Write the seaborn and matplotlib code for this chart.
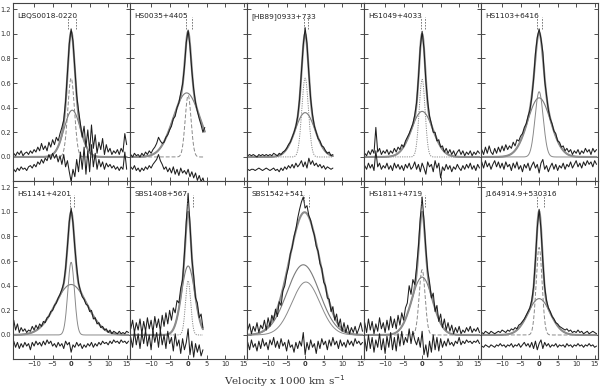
import numpy as np
import pandas as pd
import matplotlib
matplotlib.use("Agg")
import matplotlib.pyplot as plt
from matplotlib.ticker import FixedLocator, FormatStrFormatter
import seaborn as sns

sns.set_theme(style="white")
plt.rcParams['font.family'] = ['DejaVu Sans']

# ---------------- data ----------------
names = ["LBQS0018-0220", "HS0035+4405", "[HB89]0933+733", "HS1049+4033", "HS1103+6416",
         "HS1141+4201", "SBS1408+567", "SBS1542+541", "HS1811+4719", "J164914.9+530316"]

v_start = -15.5   # first velocity bin (x1000 km/s)
v_step = 0.5      # bin width

spec_0018 = [0.03, 0.01, 0.04, 0.02, 0.05, 0.01, 0.03, 0.04, 0.02, 0.05,
             0.03, 0.06, 0.04, 0.08, 0.05, 0.11, 0.06, 0.09, 0.05, 0.12,
             0.08, 0.14, 0.10, 0.16, 0.13, 0.19, 0.24, 0.30, 0.45, 0.68,
             0.92, 1.04, 0.94, 0.72, 0.50, 0.38, 0.27, 0.16, 0.25, 0.08,
             0.22, 0.05, 0.26, 0.07, 0.18, 0.03, 0.12, 0.06, 0.15, 0.02,
             0.10, 0.04, 0.07, 0.02, 0.05, 0.03, 0.06, 0.02, 0.07, 0.04,
             0.19, 0.10]
resid_0018 = [-0.10, -0.12, -0.09, -0.11, -0.08, -0.10, -0.09, -0.11, -0.08, -0.07,
              -0.09, -0.06, -0.08, -0.04, -0.06, -0.02, -0.05, -0.01, -0.03, 0.02,
              -0.02, 0.03, -0.01, 0.02, -0.04, 0.01, -0.06, 0.02, -0.08, -0.03,
              -0.12, -0.20, -0.10, -0.16, -0.02, -0.12, 0.04, -0.10, 0.08, -0.14,
              0.05, -0.12, 0.10, -0.08, 0.03, -0.10, -0.02, -0.08, -0.04, -0.10,
              -0.05, -0.08, -0.06, -0.09, -0.07, -0.10, -0.08, -0.11, -0.08, -0.10,
              0.04, -0.10]

spec_0035 = [0.02, 0.00, 0.03, 0.01, 0.02, 0.00, 0.03, 0.01, 0.04, 0.02,
             0.05, 0.03, 0.06, 0.08, 0.11, 0.16, 0.13, 0.11, 0.12, 0.16,
             0.18, 0.22, 0.25, 0.31, 0.33, 0.40, 0.44, 0.52, 0.59, 0.73,
             0.93, 1.03, 0.90, 0.70, 0.55, 0.44, 0.37, 0.31, 0.26, 0.20,
             0.24]
resid_0035 = [-0.08, -0.10, -0.07, -0.11, -0.09, -0.12, -0.09, -0.11, -0.08, -0.10,
              -0.07, -0.09, -0.06, -0.04, -0.02, 0.02, -0.03, -0.06, -0.10, -0.08,
              -0.12, -0.09, -0.13, -0.08, -0.14, -0.10, -0.15, -0.09, -0.13, -0.11,
              -0.14, -0.10, -0.16, -0.12, -0.17, -0.13, -0.19, -0.15, -0.20, -0.17,
              -0.22]

spec_0933 = [0.01, 0.02, 0.01, 0.02, 0.01, 0.00, 0.02, 0.01, 0.02, 0.01,
             0.02, 0.01, 0.02, 0.01, 0.03, 0.02, 0.01, 0.03, 0.02, 0.04,
             0.05, 0.07, 0.10, 0.12, 0.16, 0.20, 0.25, 0.33, 0.47, 0.69,
             0.91, 1.05, 0.92, 0.68, 0.47, 0.34, 0.25, 0.20, 0.15, 0.13,
             0.09, 0.08, 0.05, 0.03, 0.04, 0.01, 0.02]
resid_0933 = [-0.10, -0.11, -0.10, -0.10, -0.11, -0.10, -0.09, -0.10, -0.11, -0.10,
              -0.09, -0.10, -0.11, -0.10, -0.09, -0.11, -0.10, -0.12, -0.09, -0.11,
              -0.08, -0.10, -0.07, -0.09, -0.06, -0.09, -0.05, -0.08, -0.06, -0.03,
              -0.08, -0.04, -0.09, -0.01, -0.06, -0.03, -0.07, -0.05, -0.08, -0.06,
              -0.09, -0.07, -0.10, -0.08, -0.09, -0.10, -0.09]

spec_1049 = [0.03, 0.01, 0.05, 0.02, 0.06, 0.03, 0.24, 0.04, 0.07, 0.02,
             0.05, 0.03, 0.06, 0.02, 0.05, 0.03, 0.07, 0.04, 0.08, 0.06,
             0.10, 0.08, 0.13, 0.16, 0.19, 0.23, 0.27, 0.34, 0.44, 0.64,
             0.89, 1.02, 0.88, 0.62, 0.45, 0.33, 0.27, 0.20, 0.20, 0.13,
             0.14, 0.08, 0.09, 0.04, 0.07, 0.03, 0.06, 0.02, 0.05, 0.01,
             0.04, 0.06, 0.02, 0.05, 0.01, 0.04, 0.02, 0.05, 0.01, 0.04,
             0.02, 0.05, 0.03]
resid_1049 = [-0.07, -0.10, -0.05, -0.09, -0.06, -0.11, 0.05, -0.08, -0.05, -0.10,
              -0.07, -0.09, -0.05, -0.10, -0.07, -0.11, -0.05, -0.09, -0.06, -0.10,
              -0.07, -0.11, -0.06, -0.09, -0.05, -0.10, -0.08, -0.04, -0.10, -0.06,
              -0.12, -0.05, -0.09, -0.14, -0.04, -0.08, -0.06, -0.12, -0.03, -0.09,
              -0.05, -0.17, -0.08, -0.11, -0.06, -0.10, -0.07, -0.12, -0.08, -0.10,
              -0.06, -0.09, -0.11, -0.07, -0.10, -0.06, -0.09, -0.05, -0.10, -0.07,
              -0.11, -0.06, -0.09]

spec_1103 = [0.06, 0.02, 0.08, 0.03, 0.09, 0.04, 0.02, 0.07, 0.03, 0.08,
             0.04, 0.09, 0.05, 0.10, 0.06, 0.09, 0.07, 0.12, 0.09, 0.14,
             0.13, 0.17, 0.19, 0.24, 0.27, 0.33, 0.38, 0.48, 0.63, 0.84,
             0.97, 1.04, 0.96, 0.85, 0.62, 0.50, 0.38, 0.31, 0.27, 0.21,
             0.19, 0.13, 0.12, 0.08, 0.09, 0.05, 0.07, 0.04, 0.06, 0.02,
             0.05, 0.03, 0.06, 0.02, 0.05, 0.03, 0.07, 0.04, 0.06, 0.02,
             0.07, 0.04, 0.06]
resid_1103 = [-0.04, -0.09, -0.03, -0.08, -0.05, -0.10, -0.06, -0.03, -0.08, -0.04,
              -0.09, -0.05, -0.10, -0.04, -0.08, -0.06, -0.11, -0.05, -0.09, -0.04,
              -0.10, -0.07, -0.12, -0.06, -0.09, -0.05, -0.11, -0.07, -0.04, -0.09,
              -0.06, -0.13, -0.05, -0.02, -0.10, -0.07, -0.12, -0.08, -0.05, -0.10,
              -0.06, -0.11, -0.07, -0.09, -0.05, -0.10, -0.06, -0.08, -0.04, -0.09,
              -0.06, -0.03, -0.08, -0.05, -0.09, -0.04, -0.07, -0.03, -0.06, -0.04,
              -0.08, -0.03, -0.06]

spec_1141 = [0.12, 0.04, 0.09, 0.02, 0.06, 0.03, 0.05, 0.02, 0.04, 0.03,
             0.07, 0.04, 0.08, 0.05, 0.09, 0.07, 0.11, 0.10, 0.14, 0.15,
             0.19, 0.20, 0.24, 0.26, 0.30, 0.33, 0.37, 0.42, 0.54, 0.72,
             0.92, 1.03, 0.91, 0.71, 0.55, 0.42, 0.36, 0.31, 0.29, 0.25,
             0.24, 0.19, 0.20, 0.13, 0.14, 0.09, 0.10, 0.06, 0.07, 0.04,
             0.05, 0.02, 0.04, 0.01, 0.03, 0.02, 0.01, 0.03, 0.01, 0.02,
             0.01, 0.03, 0.02]
resid_1141 = [-0.05, -0.10, -0.06, -0.11, -0.07, -0.10, -0.06, -0.09, -0.07, -0.12,
              -0.06, -0.09, -0.05, -0.08, -0.06, -0.09, -0.05, -0.08, -0.04, -0.07,
              -0.05, -0.09, -0.07, -0.10, -0.06, -0.09, -0.07, -0.11, -0.05, -0.08,
              -0.06, -0.14, -0.08, -0.10, -0.06, -0.09, -0.07, -0.11, -0.08, -0.10,
              -0.07, -0.09, -0.06, -0.10, -0.07, -0.09, -0.06, -0.08, -0.05, -0.07,
              -0.06, -0.08, -0.05, -0.07, -0.04, -0.06, -0.05, -0.07, -0.04, -0.06,
              -0.05, -0.07, -0.05]

spec_1408 = [0.05, 0.12, 0.02, 0.10, 0.04, 0.13, 0.01, 0.11, 0.03, 0.14,
             0.05, 0.12, 0.02, 0.15, 0.06, 0.13, 0.03, 0.16, 0.07, 0.18,
             0.09, 0.20, 0.12, 0.22, 0.18, 0.28, 0.26, 0.38, 0.45, 0.66,
             0.92, 1.15, 0.90, 0.62, 0.48, 0.30, 0.26, 0.14, 0.17, 0.06]
resid_1408 = [-0.02, -0.10, 0.03, -0.08, 0.01, -0.11, 0.02, -0.07, 0.04, -0.09,
              0.00, -0.12, 0.03, -0.06, 0.02, -0.10, 0.04, -0.08, 0.00, -0.11,
              0.03, -0.07, -0.02, -0.13, 0.01, -0.09, -0.04, -0.15, -0.03, -0.12,
              -0.06, 0.05, -0.16, -0.05, -0.18, -0.07, -0.14, -0.08, -0.17, -0.12]

spec_1542 = [0.04, 0.09, 0.01, 0.07, 0.03, 0.10, 0.02, 0.08, 0.05, 0.12,
             0.04, 0.14, 0.07, 0.16, 0.12, 0.21, 0.15, 0.27, 0.24, 0.36,
             0.40, 0.49, 0.55, 0.66, 0.71, 0.80, 0.86, 0.95, 1.02, 1.08,
             1.12, 1.03, 1.05, 0.97, 0.93, 0.86, 0.81, 0.72, 0.68, 0.58,
             0.54, 0.43, 0.40, 0.30, 0.29, 0.19, 0.23, 0.12, 0.17, 0.07,
             0.13, 0.03, 0.10, 0.02, 0.08, 0.01, 0.06, 0.02, 0.07, 0.01,
             0.05, 0.10, 0.03]
resid_1542 = [-0.06, -0.12, -0.04, -0.10, -0.07, -0.13, -0.05, -0.11, -0.03, -0.09,
              -0.06, -0.12, -0.04, -0.08, -0.02, -0.10, -0.05, -0.11, -0.03, -0.09,
              -0.06, -0.13, -0.04, -0.10, -0.08, -0.14, -0.06, -0.11, -0.05, -0.09,
              0.02, -0.16, -0.06, -0.12, -0.04, -0.10, -0.07, -0.15, -0.05, -0.11,
              -0.03, -0.08, -0.05, -0.12, -0.04, -0.09, -0.02, -0.08, -0.05, -0.11,
              -0.04, -0.09, -0.06, -0.10, -0.04, -0.08, -0.05, -0.09, -0.03, -0.07,
              -0.05, -0.08, -0.06]

spec_1811 = [0.10, 0.02, 0.13, 0.04, 0.11, 0.01, 0.09, 0.03, 0.14, 0.05,
             0.10, 0.02, 0.12, 0.04, 0.15, 0.06, 0.13, 0.05, 0.16, 0.08,
             0.18, 0.12, 0.22, 0.26, 0.40, 0.33, 0.45, 0.41, 0.55, 0.72,
             0.95, 1.12, 0.93, 0.70, 0.52, 0.43, 0.30, 0.34, 0.19, 0.24,
             0.11, 0.17, 0.06, 0.13, 0.04, 0.10, 0.03, 0.08, 0.01, 0.06,
             0.02, 0.07, 0.01, 0.04, 0.02, 0.06, 0.03, 0.07, 0.02, 0.05,
             0.03, 0.06, 0.02]
resid_1811 = [-0.03, -0.13, 0.00, -0.11, -0.02, -0.14, -0.04, -0.10, 0.01, -0.12,
              -0.03, -0.15, -0.01, -0.10, 0.02, -0.12, -0.02, -0.13, 0.01, -0.09,
              0.03, -0.08, -0.02, -0.06, 0.05, -0.07, 0.03, -0.04, -0.08, -0.02,
              -0.10, 0.03, -0.16, -0.08, -0.18, -0.05, -0.14, 0.00, -0.12, -0.02,
              -0.13, -0.03, -0.10, -0.05, -0.09, -0.03, -0.08, -0.06, -0.09, -0.05,
              -0.07, -0.02, -0.08, -0.05, -0.07, -0.04, -0.06, -0.05, -0.07, -0.05,
              -0.06, -0.04, -0.07]

spec_1649 = [0.02, 0.01, 0.03, 0.02, 0.01, 0.03, 0.02, 0.01, 0.02, 0.03,
             0.02, 0.04, 0.03, 0.02, 0.04, 0.03, 0.05, 0.04, 0.06, 0.05,
             0.08, 0.09, 0.11, 0.13, 0.16, 0.19, 0.22, 0.28, 0.39, 0.61,
             0.87, 1.02, 0.86, 0.60, 0.39, 0.28, 0.22, 0.19, 0.15, 0.13,
             0.10, 0.09, 0.07, 0.06, 0.05, 0.04, 0.05, 0.03, 0.04, 0.02,
             0.03, 0.02, 0.04, 0.02, 0.03, 0.01, 0.02, 0.03, 0.01, 0.02,
             0.03, 0.02, 0.01]
resid_1649 = [-0.09, -0.10, -0.08, -0.09, -0.10, -0.08, -0.09, -0.10, -0.08, -0.09,
              -0.07, -0.09, -0.08, -0.10, -0.08, -0.09, -0.07, -0.10, -0.08, -0.09,
              -0.07, -0.10, -0.08, -0.06, -0.09, -0.07, -0.10, -0.06, -0.11, -0.05,
              -0.12, -0.07, -0.04, -0.11, -0.06, -0.09, -0.07, -0.10, -0.08, -0.09,
              -0.07, -0.10, -0.08, -0.09, -0.08, -0.10, -0.07, -0.09, -0.08, -0.10,
              -0.08, -0.09, -0.07, -0.09, -0.08, -0.10, -0.08, -0.09, -0.07, -0.09,
              -0.08, -0.10, -0.09]

spectra = [spec_0018, spec_0035, spec_0933, spec_1049, spec_1103,
           spec_1141, spec_1408, spec_1542, spec_1811, spec_1649]
residuals = [resid_0018, resid_0035, resid_0933, resid_1049, resid_1103,
             resid_1141, resid_1408, resid_1542, resid_1811, resid_1649]

# fitted Gaussian components (amplitude, centre, sigma)
broad_amp = [0.38, 0.52, 0.36, 0.37, 0.48, 0.41, 0.56, 0.57, 0.47, 0.295]
broad_cen = [0.3, -0.4, 0.0, 0.0, 0.0, 0.0, 0.0, -0.5, 0.0, 0.0]
broad_sig = [2.2, 3.6, 2.7, 2.9, 3.1, 4.3, 1.8, 4.4, 2.8, 3.0]
narrow_amp = [0.64, 0.50, 0.64, 0.63, 0.53, 0.59, 0.44, 0.43, 0.53, 0.71]
narrow_cen = [0.0, 0.0, 0.0, 0.0, 0.0, 0.0, 0.0, 0.2, 0.0, 0.0]
narrow_sig = [0.9, 0.8, 0.9, 0.8, 1.1, 0.9, 0.7, 3.8, 0.8, 0.8]
narrow_style = ["dashed", "dashed", "dotted", "dotted", "solid",
                "solid", "dotted", "solid", "dashed", "dashed"]
marker_pos = [(-0.9, 1.3), (-0.5, 1.1), (-0.3, 0.8), (-0.3, 0.9), (-0.5, 0.9),
              (-0.4, 0.8), (-0.3, 1.4), (-0.4, 1.0), (-0.4, 0.9), (-0.5, 1.4)]

x_ticks = [-10, -5, 0, 5, 10, 15]
y_ticks = [0.0, 0.2, 0.4, 0.6, 0.8, 1.0, 1.2]

# ---------------- figure ----------------
W, H = 600, 388
fig = plt.figure(figsize=(6.0, 3.88), dpi=100)
fig.patch.set_facecolor("white")

left_px, right_px = 13, 598
top_px, mid_px, bot_px = 3, 181, 359
pw = (right_px - left_px) / 5.0

styles = {"dashed": (0, (4, 2)), "dotted": (0, (1.2, 1.2)), "solid": "-"}

def gauss(x, a, c, s):
    return a * np.exp(-0.5 * ((x - c) / s) ** 2)

for i in range(10):
    row, col = divmod(i, 5)
    x0 = left_px + col * pw
    y_top = top_px if row == 0 else mid_px
    y_bot = mid_px if row == 0 else bot_px
    ax = fig.add_axes([x0 / W, 1 - y_bot / H, pw / W, (y_bot - y_top) / H])
    ax.set_facecolor("white")

    spec = np.array(spectra[i])
    v = v_start + v_step * np.arange(len(spec))
    res = np.array(residuals[i])
    vr = v_start + v_step * np.arange(len(res))

    vf = np.arange(v[0], v[-1] + 1e-6, 0.1)
    b = gauss(vf, broad_amp[i], broad_cen[i], broad_sig[i])
    n = gauss(vf, narrow_amp[i], narrow_cen[i], narrow_sig[i])
    df_fit = pd.DataFrame({"v": vf, "broad": b, "narrow": n, "total": b + n})

    sns.lineplot(data=df_fit, x="v", y="broad", ax=ax, color="#7a7a7a", lw=0.8,
                 estimator=None, sort=False)
    sns.lineplot(data=df_fit, x="v", y="narrow", ax=ax, color="#8a8a8a", lw=0.7,
                 linestyle=styles[narrow_style[i]], estimator=None, sort=False)
    sns.lineplot(data=df_fit, x="v", y="total", ax=ax, color="#8c8c8c", lw=1.5,
                 estimator=None, sort=False)
    sns.lineplot(x=v, y=spec, ax=ax, color="#1e1e1e", lw=0.75, estimator=None, sort=False)
    sns.lineplot(x=vr, y=res, ax=ax, color="#1e1e1e", lw=0.75, estimator=None, sort=False)

    for m in marker_pos[i]:
        ax.plot([m, m], [1.04, 1.14], color="#666666", lw=0.6, linestyle=(0, (2, 1.5)))

    ax.set_xlim(-15.7, 15.9)
    ax.set_ylim(-0.195, 1.25)
    ax.xaxis.set_major_locator(FixedLocator(x_ticks))
    ax.yaxis.set_major_locator(FixedLocator(y_ticks))
    ax.set_xlabel("")
    ax.set_ylabel("")
    ax.tick_params(direction="in", length=3.2, width=0.6, top=True, right=True,
                   bottom=True, left=True, labelsize=4.8, pad=1.5, colors="#333333")
    for sp in ax.spines.values():
        sp.set_color("#444444")
        sp.set_linewidth(0.8)
    if col == 0:
        ax.yaxis.set_major_formatter(FormatStrFormatter("%.1f"))
    else:
        ax.set_yticklabels([])
    if row == 1:
        ax.set_xticklabels([f"{t}" if t >= 0 else f"\u2212{abs(t)}" for t in x_ticks])
        for lab, t in zip(ax.get_xticklabels(), x_ticks):
            if t == 0:
                lab.set_fontweight("bold")
    else:
        ax.set_xticklabels([])
    ax.text(0.035, 0.925, names[i], transform=ax.transAxes, fontsize=5.3,
            color="#222222", ha="left", va="center")

fig.text(0.475, 0.018, "Velocity x 1000 km s$^{-1}$", ha="center", va="center",
         fontsize=7.5, family="DejaVu Serif", color="#333333")

fig.savefig("out.png", dpi=100, facecolor="white")
